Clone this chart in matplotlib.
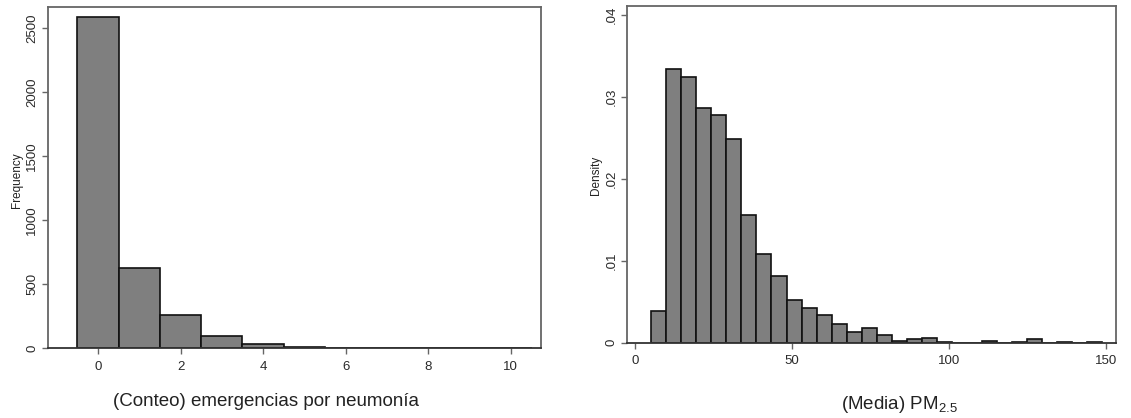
import numpy as np
import matplotlib
matplotlib.use("Agg")
import matplotlib.pyplot as plt

plt.rcParams['font.family'] = ['Liberation Sans', 'DejaVu Sans']
plt.rcParams['mathtext.fontset'] = 'custom'
plt.rcParams['mathtext.rm'] = 'Liberation Sans'
plt.rcParams['mathtext.it'] = 'Liberation Sans'

# ---- Data: left panel (count of pneumonia emergencies) ----
count_values = [0, 1, 2, 3, 4, 5, 6, 7, 8, 9, 10]
count_freq = [2581, 622, 260, 91, 29, 7, 2, 1, 1, 1, 1]
left_xticks = [0, 2, 4, 6, 8, 10]
left_yticks = [0, 500, 1000, 1500, 2000, 2500]

# ---- Data: right panel (mean PM2.5 density histogram) ----
pm_bin_start = 5.2
pm_bin_end = 148.6
pm_density = [0.0039, 0.0334, 0.0324, 0.0287, 0.0278, 0.0248, 0.0156, 0.0108,
              0.0081, 0.0052, 0.0042, 0.0034, 0.0022, 0.0013, 0.0018, 0.0009,
              0.0002, 0.0004, 0.0005, 0.00004, 0.0, 0.0, 0.0002, 0.0,
              0.00004, 0.0004, 0.0, 0.00004, 0.0, 0.00004]
right_xticks = [0, 50, 100, 150]
right_yticks = [0, 0.01, 0.02, 0.03, 0.04]
right_ytick_labels = ['0', '.01', '.02', '.03', '.04']

W, H = 1131, 418
fig = plt.figure(figsize=(W / 100, H / 100), dpi=100)

def axes_px(x0, x1, ytop, ybot):
    return fig.add_axes([x0 / W, 1 - ybot / H, (x1 - x0) / W, (ybot - ytop) / H])

bar_fc = '#7f7f7f'
frame_col = '#666666'

def style(ax):
    for s in ['left', 'right', 'top']:
        ax.spines[s].set_color(frame_col)
        ax.spines[s].set_linewidth(1.3)
    ax.spines['bottom'].set_color('#333333')
    ax.spines['bottom'].set_linewidth(1.3)
    ax.tick_params(axis='both', direction='out', length=4, width=1,
                   color='#666666', labelsize=9.5, labelcolor='#2a2a2a')
    ax.tick_params(axis='x', pad=5)
    ax.tick_params(axis='y', pad=3)
    plt.setp(ax.get_yticklabels(), rotation=90, va='center')

# Left panel
axL = axes_px(48, 541, 7, 348)
axL.bar(count_values, count_freq, width=1.0, color=bar_fc, edgecolor='#111111', linewidth=1.2)
axL.set_xlim(-1.21, 10.73)
axL.set_ylim(0, 2662)
axL.set_xticks(left_xticks)
axL.set_yticks(left_yticks)
style(axL)
fig.text(17 / W, 1 - 180 / H, 'Frequency', rotation=90, ha='center', va='center',
         fontsize=8.5, color='#222222')
fig.text(266 / W, 1 - 406 / H, '(Conteo) emergencias por neumonía', ha='center',
         va='baseline', fontsize=13.5, color='#222222')

# Right panel
pm_edges = np.linspace(pm_bin_start, pm_bin_end, len(pm_density) + 1)
axR = axes_px(627, 1116, 6, 342.5)
axR.bar(pm_edges[:-1], pm_density, width=np.diff(pm_edges), align='edge',
        color=bar_fc, edgecolor='#111111', linewidth=1.2)
axR.set_xlim(-2.55, 153.1)
axR.set_ylim(0, 0.0411)
axR.set_xticks(right_xticks)
axR.set_yticks(right_yticks)
axR.set_yticklabels(right_ytick_labels)
style(axR)
fig.text(596 / W, 1 - 175 / H, 'Density', rotation=90, ha='center', va='center',
         fontsize=8.5, color='#222222')
fig.text(899 / W, 1 - 409 / H, r'(Media) PM$_{2.5}$', ha='center',
         va='baseline', fontsize=13.5, color='#222222')

fig.savefig('out.png', dpi=100, facecolor='white')
